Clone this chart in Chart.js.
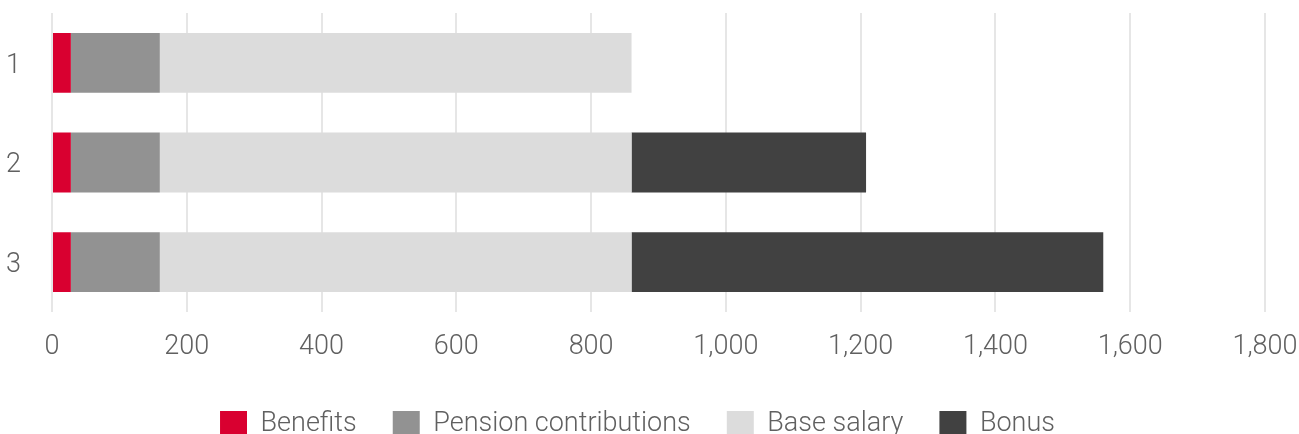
<!DOCTYPE html>
<html>
<head>
<meta charset="utf-8">
<script src="https://cdn.jsdelivr.net/npm/chart.js@4"></script>
<style>
    html, body { margin: 0; padding: 0; background: #fff; }
    #wrap { width: 1299px; height: 434px; }
</style>
</head>
<body>
<div id="wrap"><canvas id="payChart" width="1299" height="434"></canvas></div>
<script>
const categories = ['1', '2', '3'];
const benefits = [28, 28, 28];
const pension = [132, 132, 132];
const baseSalary = [700, 700, 700];
const bonus = [0, 348, 700];
const xTicks = [0, 200, 400, 600, 800, 1000, 1200, 1400, 1600, 1800];

const textColor = '#606060';
const font = { family: 'Roboto', size: 27, weight: 300 };

// keep the plot area where the original has it, labels may overhang
function fixPadding(scale, right) {
    scale.paddingTop = 0;
    scale.paddingBottom = 0;
    scale.paddingLeft = 0;
    scale.paddingRight = right;
}

const payChart = new Chart(document.getElementById('payChart'), {
    type: 'bar',
    data: {
        labels: categories,
        datasets: [
            { label: 'Benefits', data: benefits, backgroundColor: '#d90030' },
            { label: 'Pension contributions', data: pension, backgroundColor: '#929292' },
            { label: 'Base salary', data: baseSalary, backgroundColor: '#dcdcdc' },
            { label: 'Bonus', data: bonus, backgroundColor: '#414141' }
        ]
    },
    options: {
        indexAxis: 'y',
        responsive: false,
        animation: false,
        layout: {
            padding: { left: 0, right: 24, top: 13, bottom: -14 }
        },
        datasets: {
            bar: { barPercentage: 0.6, categoryPercentage: 1, borderWidth: 0 }
        },
        scales: {
            x: {
                stacked: true,
                min: 0,
                max: 1800,
                afterBuildTicks: scale => {
                    scale.ticks = xTicks.map(v => ({ value: v }));
                },
                afterFit: scale => {
                    scale.height = 63;
                    fixPadding(scale, 34);
                },
                border: { display: false },
                grid: { color: '#e6e6e6', lineWidth: 2, drawTicks: false },
                ticks: {
                    color: textColor,
                    font: font,
                    padding: 19,
                    callback: value => value.toLocaleString('en-US')
                }
            },
            y: {
                stacked: true,
                afterFit: scale => {
                    scale.width = 52;
                    fixPadding(scale, 0);
                },
                border: { display: false },
                grid: { display: false, drawTicks: false },
                ticks: { color: textColor, font: font, padding: 31, labelOffset: 3 }
            }
        },
        plugins: {
            tooltip: { enabled: false },
            legend: {
                position: 'bottom',
                labels: {
                    color: textColor,
                    font: font,
                    boxWidth: 27,
                    boxHeight: 27,
                    padding: 36
                }
            }
        }
    }
});
</script>
</body>
</html>
